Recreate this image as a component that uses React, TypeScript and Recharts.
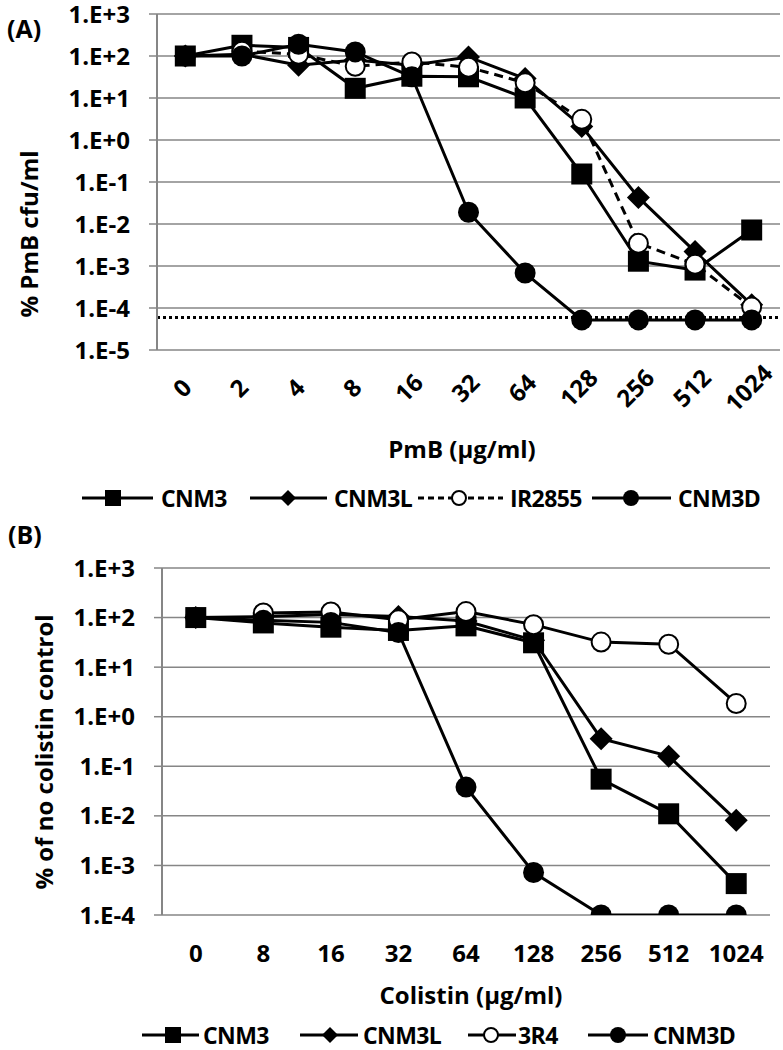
import React from 'react';
import { LineChart, Line, XAxis, YAxis, CartesianGrid, ReferenceLine } from 'recharts';

// ---- panel A : PmB ----
const pmbDoses = ['0', '2', '4', '8', '16', '32', '64', '128', '256', '512', '1024'];
const pmbCNM3 = [100, 180, 160, 17, 33, 32, 10, 0.155, 0.0013, 0.0008, 0.0072];
const pmbCNM3L = [100, 110, 60, 80, 60, 95, 29, 2.1, 0.043, 0.0022, 0.00012];
const pmbIR2855 = [null, 130, 110, 57, 72, 54, 23, 3.1, 0.0035, 0.0011, 0.000105];
const pmbCNM3D = [100, 100, 190, 125, 32, 0.019, 0.00068, 0.000052, 0.000052, 0.000052, 0.000052];
const pmbDetectionLimit = 0.000059;

// ---- panel B : colistin ----
const colDoses = ['0', '8', '16', '32', '64', '128', '256', '512', '1024'];
const colCNM3 = [100, 78, 64, 55, 68, 31, 0.055, 0.011, 0.00043];
const colCNM3L = [100, 105, 115, 105, 85, 35, 0.36, 0.16, 0.0082];
const col3R4 = [null, 124, 130, 90, 132, 72, 32, 29, 1.85];
const colCNM3D = [100, 88, 80, 50, 0.038, 0.00072, 0.0001, 0.0001, 0.0001];

const yTicksA = [1e-5, 1e-4, 1e-3, 1e-2, 1e-1, 1, 10, 100, 1000];
const yTicksB = [1e-4, 1e-3, 1e-2, 1e-1, 1, 10, 100, 1000];

const FONT = '"Open Sans", sans-serif';
const GRAY = '#868686';

type Kind = 'square' | 'diamond' | 'open' | 'filled';

const fmtE = (v: number) => {
  const e = Math.round(Math.log10(v));
  return `1.E${e >= 0 ? '+' : '-'}${Math.abs(e)}`;
};

const Marker = ({ kind, cx, cy, size }: { kind: Kind; cx: number; cy: number; size: number }) => {
  const h = size / 2;
  if (kind === 'square') return <rect x={cx - h} y={cy - h} width={size} height={size} fill="#000" />;
  if (kind === 'diamond')
    return <polygon points={`${cx},${cy - h} ${cx + h},${cy} ${cx},${cy + h} ${cx - h},${cy}`} fill="#000" />;
  if (kind === 'open') return <circle cx={cx} cy={cy} r={h - 1} fill="#fff" stroke="#000" strokeWidth={2} />;
  return <circle cx={cx} cy={cy} r={h} fill="#000" />;
};

const dotFor = (kind: Kind, size: number) => (p: any) => {
  if (p.value == null || p.cx == null || p.cy == null || isNaN(p.cy)) return <g key={p.index} />;
  return <Marker key={p.index} kind={kind} cx={p.cx} cy={p.cy} size={kind === 'diamond' ? size + 2 : size} />;
};

const YTick = (props: any) => {
  const { x, y, payload } = props;
  return (
    <text x={x} y={y + 8.5} textAnchor="end" fontFamily={FONT} fontWeight={700} fontSize={24} fill="#000">
      {fmtE(payload.value)}
    </text>
  );
};

const EmptyTick = () => <g />;

const RotTick = (props: any) => {
  const { x, y, payload } = props;
  return (
    <text
      transform={`translate(${x - 3},${y + 38}) rotate(-45)`}
      textAnchor="middle"
      dy="0.36em"
      fontFamily={FONT}
      fontWeight={700}
      fontSize={24}
      fill="#000"
    >
      {pmbDoses[payload.value]}
    </text>
  );
};

const FlatTick = (props: any) => {
  const { x, y, payload } = props;
  return (
    <text x={x} y={y + 47} textAnchor="middle" fontFamily={FONT} fontWeight={700} fontSize={24} fill="#000">
      {colDoses[payload.value]}
    </text>
  );
};

const rowsA = pmbDoses.map((d, i) => ({
  i,
  dose: d,
  CNM3: pmbCNM3[i],
  CNM3L: pmbCNM3L[i],
  IR2855: pmbIR2855[i],
  CNM3D: pmbCNM3D[i],
}));

const rowsB = colDoses.map((d, i) => ({
  i,
  dose: d,
  CNM3: colCNM3[i],
  CNM3L: colCNM3L[i],
  '3R4': col3R4[i],
  CNM3D: colCNM3D[i],
}));

const seriesA: { key: string; kind: Kind; dash?: string }[] = [
  { key: 'CNM3', kind: 'square' },
  { key: 'CNM3L', kind: 'diamond' },
  { key: 'IR2855', kind: 'open', dash: '9 6' },
  { key: 'CNM3D', kind: 'filled' },
];

const seriesB: { key: string; kind: Kind; dash?: string }[] = [
  { key: 'CNM3', kind: 'square' },
  { key: 'CNM3L', kind: 'diamond' },
  { key: '3R4', kind: 'open' },
  { key: 'CNM3D', kind: 'filled' },
];

const legendPosA = [
  { x1: 82, x2: 153, mx: 113, tx: 161 },
  { x1: 250, x2: 327, mx: 288, tx: 334 },
  { x1: 418, x2: 503, mx: 459, tx: 510 },
  { x1: 592, x2: 671, mx: 631, tx: 678 },
];
const legendPosB = [
  { x1: 142, x2: 199, mx: 173, tx: 203 },
  { x1: 300, x2: 358, mx: 330, tx: 363 },
  { x1: 468, x2: 516, mx: 491, tx: 518 },
  { x1: 588, x2: 648, mx: 618, tx: 653 },
];

const LegendRow = ({ series, pos, y }: { series: typeof seriesA; pos: typeof legendPosA; y: number }) => (
  <g>
    {series.map((s, k) => (
      <g key={s.key}>
        <line
          x1={pos[k].x1}
          x2={pos[k].x2}
          y1={y}
          y2={y}
          stroke="#000"
          strokeWidth={3}
          strokeDasharray={s.dash ? '6 4' : undefined}
        />
        <Marker kind={s.kind} cx={pos[k].mx} cy={y} size={16} />
        <text
          x={pos[k].tx}
          y={y + 8.5}
          fontFamily={FONT}
          fontWeight={700}
          fontSize={23}
          letterSpacing={-0.6}
          fill="#000"
        >
          {s.key}
        </text>
      </g>
    ))}
  </g>
);

const boundsA = pmbDoses.map((_, i) => i - 0.5).concat([pmbDoses.length - 0.5]);
const boundsB = colDoses.map((_, i) => i - 0.5).concat([colDoses.length - 0.5]);

const App: React.FC = () => {
  return (
    <div style={{ position: 'absolute', left: 0, top: 0, width: 783, height: 1050, background: '#fff' }}>
      <div style={{ position: 'absolute', left: 0, top: 0 }}>
        <LineChart width={783} height={420} data={rowsA} margin={{ top: 14, right: 3, bottom: 0, left: 0 }}>
          <CartesianGrid vertical={false} stroke={GRAY} strokeWidth={1.5} />
          <XAxis
            xAxisId="m"
            type="number"
            dataKey="i"
            domain={[-0.5, pmbDoses.length - 0.5]}
            ticks={boundsA}
            allowDataOverflow
            height={0}
            tickSize={8}
            tick={EmptyTick}
            tickLine={{ stroke: GRAY, strokeWidth: 1.5 }}
            axisLine={{ stroke: GRAY, strokeWidth: 2 }}
          />
          <XAxis
            type="number"
            dataKey="i"
            domain={[-0.5, pmbDoses.length - 0.5]}
            ticks={pmbDoses.map((_, i) => i)}
            interval={0}
            allowDataOverflow
            height={70}
            tickSize={0}
            tickMargin={0}
            tickLine={false}
            axisLine={false}
            tick={RotTick}
          />
          <XAxis
            xAxisId="t"
            orientation="top"
            type="number"
            domain={[0, 1]}
            height={0}
            tick={false}
            tickLine={false}
            axisLine={{ stroke: '#000', strokeWidth: 2 }}
          />
          <YAxis
            scale="log"
            type="number"
            domain={[1e-5, 1e3]}
            ticks={yTicksA}
            interval={0}
            allowDataOverflow
            width={157}
            tickSize={8}
            tickMargin={19}
            tick={YTick}
            tickLine={{ stroke: GRAY, strokeWidth: 1.5 }}
            axisLine={{ stroke: GRAY, strokeWidth: 2 }}
          />
          <YAxis
            yAxisId="r"
            orientation="right"
            type="number"
            domain={[0, 1]}
            width={0}
            tick={false}
            tickLine={false}
            axisLine={{ stroke: '#000', strokeWidth: 2 }}
          />
          <ReferenceLine y={pmbDetectionLimit} stroke="#000" strokeWidth={3} strokeDasharray="3 3" />
          {seriesA.map((s) => (
            <Line
              key={s.key}
              dataKey={s.key}
              stroke="#000"
              strokeWidth={3}
              strokeDasharray={s.dash}
              dot={dotFor(s.kind, 21)}
              activeDot={false}
              isAnimationActive={false}
            />
          ))}
        </LineChart>
      </div>

      <div style={{ position: 'absolute', left: 0, top: 540 }}>
        <LineChart width={783} height={440} data={rowsB} margin={{ top: 28, right: 13, bottom: 0, left: 0 }}>
          <CartesianGrid vertical={false} stroke={GRAY} strokeWidth={1.5} />
          <XAxis
            xAxisId="m"
            type="number"
            dataKey="i"
            domain={[-0.5, colDoses.length - 0.5]}
            ticks={boundsB}
            allowDataOverflow
            height={0}
            tickSize={8}
            tick={EmptyTick}
            tickLine={{ stroke: GRAY, strokeWidth: 1.5 }}
            axisLine={{ stroke: GRAY, strokeWidth: 2 }}
          />
          <XAxis
            type="number"
            dataKey="i"
            domain={[-0.5, colDoses.length - 0.5]}
            ticks={colDoses.map((_, i) => i)}
            interval={0}
            allowDataOverflow
            height={65}
            tickSize={0}
            tickMargin={0}
            tickLine={false}
            axisLine={false}
            tick={FlatTick}
          />
          <XAxis
            xAxisId="t"
            orientation="top"
            type="number"
            domain={[0, 1]}
            height={0}
            tick={false}
            tickLine={false}
            axisLine={{ stroke: '#000', strokeWidth: 2 }}
          />
          <YAxis
            scale="log"
            type="number"
            domain={[1e-4, 1e3]}
            ticks={yTicksB}
            interval={0}
            allowDataOverflow
            width={162}
            tickSize={8}
            tickMargin={19}
            tick={YTick}
            tickLine={{ stroke: GRAY, strokeWidth: 1.5 }}
            axisLine={{ stroke: GRAY, strokeWidth: 2 }}
          />
          <YAxis
            yAxisId="r"
            orientation="right"
            type="number"
            domain={[0, 1]}
            width={0}
            tick={false}
            tickLine={false}
            axisLine={{ stroke: '#000', strokeWidth: 2 }}
          />
          {seriesB.map((s) => (
            <Line
              key={s.key}
              dataKey={s.key}
              stroke="#000"
              strokeWidth={3}
              strokeDasharray={s.dash}
              dot={dotFor(s.kind, 21)}
              activeDot={false}
              isAnimationActive={false}
            />
          ))}
        </LineChart>
      </div>

      <svg
        width={783}
        height={1050}
        style={{ position: 'absolute', left: 0, top: 0, pointerEvents: 'none' }}
      >
        <g fontFamily={FONT} fontWeight={700} fontSize={24} fill="#000">
          <text x={7} y={38} fontSize={25}>(A)</text>
          <text x={8} y={544} fontSize={25}>(B)</text>
          <text transform="translate(38,234) rotate(-90)" textAnchor="middle">% PmB cfu/ml</text>
          <text transform="translate(53,752) rotate(-90)" textAnchor="middle">% of no colistin control</text>
          <text x={462} y={458} textAnchor="middle">PmB (µg/ml)</text>
          <text x={471} y={1004} textAnchor="middle">Colistin (µg/ml)</text>
        </g>
        <LegendRow series={seriesA} pos={legendPosA} y={498} />
        <LegendRow series={seriesB} pos={legendPosB} y={1035} />
      </svg>
    </div>
  );
};

export default App;
